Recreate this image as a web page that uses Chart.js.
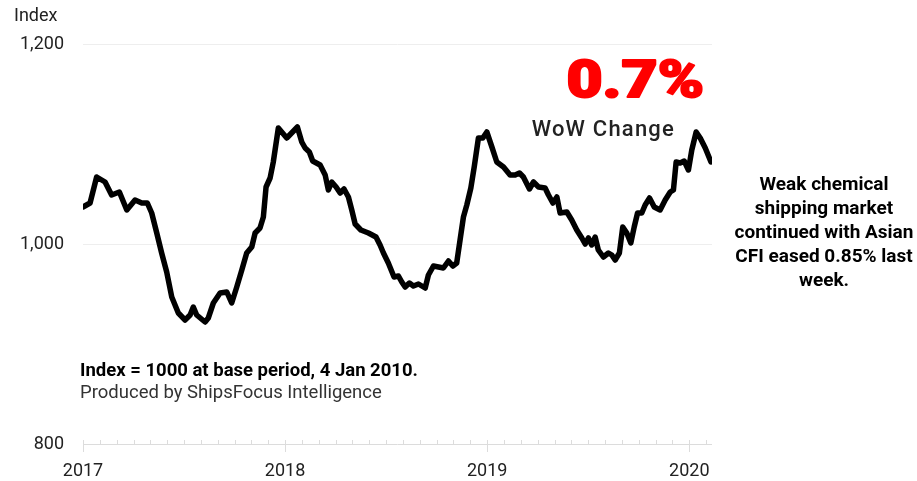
<!DOCTYPE html>
<html>
<head>
<meta charset="utf-8">
<script src="https://cdn.jsdelivr.net/npm/chart.js@4.4.1/dist/chart.umd.min.js"></script>
<style>
  html, body { margin: 0; padding: 0; background: #fff; }
  #wrap { width: 917px; height: 481px; position: relative; }
</style>
</head>
<body>
<div id="wrap"><canvas id="cfi_chart" width="917" height="481"></canvas></div>
<script>
// months since Jan 2017 and index values
const months = [0,0.42,0.81,1.31,1.70,2.16,2.60,3.09,3.49,3.82,4.08,4.38,4.67,4.97,5.27,5.66,6.06,6.36,6.55,6.75,
  7.25,7.44,7.74,8.14,8.54,8.83,9.13,9.43,9.72,10.02,10.22,10.51,10.71,10.87,11.11,11.30,11.60,12.10,12.73,12.99,
  13.19,13.44,13.64,14.08,14.38,14.57,14.77,15.03,15.27,15.50,15.76,15.96,16.16,16.50,16.95,17.40,17.64,17.84,18.13,18.47,
  18.73,18.93,19.13,19.38,19.62,19.92,20.32,20.51,20.81,21.11,21.40,21.70,21.96,22.19,22.39,22.59,22.79,23.03,23.23,23.48,
  23.74,23.98,24.28,24.57,24.97,25.36,25.66,25.92,26.15,26.51,26.75,27.05,27.44,27.64,27.90,28.14,28.33,28.73,29.02,29.32,
  29.62,29.82,30.01,30.21,30.41,30.60,30.90,31.20,31.40,31.60,31.85,32.05,32.29,32.53,32.73,32.93,33.18,33.38,33.64,33.92,
  34.27,34.57,34.87,35.06,35.22,35.46,35.70,35.95,36.15,36.41,36.65,36.95,37.29];
const cfi = [1037,1041,1067,1062,1049,1052,1034,1044,1041,1041,1031,1011,991,972,947,931,924,929,937,929,
  922,926,941,951,952,941,957,974,991,997,1011,1016,1027,1057,1066,1082,1116,1106,1117,1102,
  1096,1092,1083,1079,1069,1054,1062,1057,1051,1055,1047,1034,1020,1014,1011,1007,999,991,981,967,
  968,962,957,961,958,960,956,969,978,977,976,983,978,981,1004,1027,1039,1056,1077,1106,
  1106,1112,1097,1082,1077,1069,1069,1071,1067,1055,1062,1057,1056,1049,1041,1047,1031,1032,1024,1014,
  1006,1000,1006,999,1007,994,987,991,989,984,991,1017,1011,1001,1017,1031,1031,1039,1046,1037,
  1034,1044,1052,1054,1082,1081,1083,1074,1094,1112,1106,1096,1082];
const yearTicks = [0, 12, 24, 36];
const startYear = 2017;
const yTicks = [800, 1000, 1200];
const wowChange = "0.7%";
const noteLines = ["Weak chemical", "shipping market", "continued with Asian", "CFI eased 0.85% last", "week."];

const FONT = "Roboto, 'DejaVu Sans', sans-serif";

// monthly minor ticks + all the loose text
const extras = {
  id: 'extras',
  afterDraw(chart) {
    const c = chart.ctx, x = chart.scales.x, area = chart.chartArea;
    c.save();
    c.strokeStyle = '#dcdcdc';
    c.lineWidth = 1;
    for (let m = 0; m <= Math.floor(x.max); m++) {
      const px = Math.round(x.getPixelForValue(m)) + 0.5;
      c.beginPath();
      c.moveTo(px, area.bottom - 4);
      c.lineTo(px, area.bottom);
      c.stroke();
    }
    c.fillStyle = '#222';
    c.textBaseline = 'middle';
    c.textAlign = 'left';
    c.font = "18px " + FONT;
    c.fillText("Index", 14, 16);

    c.textBaseline = 'alphabetic';
    c.font = "bold 18.5px " + FONT;
    c.fillStyle = '#000';
    c.fillText("Index = 1000 at base period, 4 Jan 2010.", 80, 376);
    c.font = "18.5px " + FONT;
    c.fillStyle = '#333';
    c.fillText("Produced by ShipsFocus Intelligence", 80, 398);

    c.textAlign = 'right';
    c.fillStyle = '#ff0000';
    c.strokeStyle = '#ff0000';
    c.lineWidth = 2;
    c.lineJoin = 'round';
    c.font = "900 52px " + FONT;
    c.save();
    c.translate(704, 97);
    c.scale(1.2, 1);
    c.fillText(wowChange, 0, 0);
    c.strokeText(wowChange, 0, 0);
    c.restore();
    c.fillStyle = '#222';
    c.font = "500 22px " + FONT;
    c.letterSpacing = '1.2px';
    c.fillText("WoW Change", 675, 136);
    c.letterSpacing = '0px';

    c.textAlign = 'center';
    c.fillStyle = '#000';
    c.font = "bold 19px " + FONT;
    noteLines.forEach((t, i) => c.fillText(t, 824, 190 + i * 24));
    c.restore();
  }
};

const ctx = document.getElementById('cfi_chart');
const cfiChart = new Chart(ctx, {
  type: 'line',
  data: {
    datasets: [{
      label: 'CFI',
      data: months.map((m, i) => ({ x: m, y: cfi[i] })),
      borderColor: '#000',
      borderWidth: 5.5,
      pointRadius: 0,
      tension: 0,
      borderJoinStyle: 'round',
      borderCapStyle: 'round'
    }]
  },
  options: {
    responsive: false,
    animation: false,
    layout: { padding: { top: 44, right: 205, left: 0, bottom: 0 } },
    plugins: { legend: { display: false }, tooltip: { enabled: false } },
    scales: {
      x: {
        type: 'linear',
        min: 0,
        max: 37.35,
        afterBuildTicks: s => { s.ticks = yearTicks.map(v => ({ value: v })); },
        afterFit: s => { s.height = 37; },
        grid: { drawOnChartArea: false, drawTicks: true, tickLength: 8, color: '#dcdcdc' },
        border: { display: false },
        ticks: {
          autoSkip: false, maxRotation: 0, padding: 9, color: '#222',
          font: { family: FONT, size: 18 },
          callback: v => String(startYear + v / 12)
        }
      },
      y: {
        min: 800,
        max: 1200,
        afterBuildTicks: s => { s.ticks = yTicks.map(v => ({ value: v })); },
        afterFit: s => { s.width = 83; },
        grid: { color: ctx => ctx.tick.value === 800 ? '#dcdcdc' : '#eeeeee', drawTicks: false },
        border: { display: false },
        ticks: {
          padding: 19, color: '#222',
          font: { family: FONT, size: 18 },
          callback: v => v.toLocaleString('en-US')
        }
      }
    }
  },
  plugins: [extras]
});
</script>
</body>
</html>
